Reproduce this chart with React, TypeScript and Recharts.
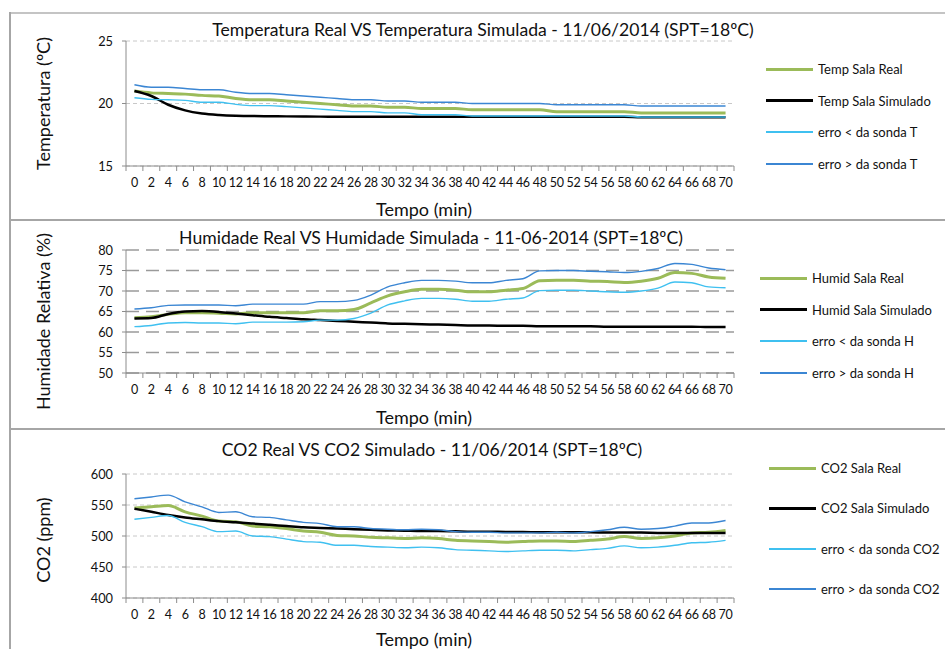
import React from "react";
import { CartesianGrid, Legend, Line, LineChart, XAxis, YAxis } from "recharts";

// minutes since start (x categories)
const minutes = [
  0, 2, 4, 6, 8, 10, 12, 14, 16, 18, 20, 22, 24, 26, 28, 30, 32, 34, 36, 38,
  40, 42, 44, 46, 48, 50, 52, 54, 56, 58, 60, 62, 64, 66, 68, 70,
];

// temperatura (ºC)
const tempReal = [
  21.0, 20.85, 20.8, 20.75, 20.65, 20.6, 20.4, 20.3, 20.3, 20.2, 20.1, 20.0,
  19.9, 19.8, 19.8, 19.7, 19.7, 19.6, 19.6, 19.6, 19.5, 19.5, 19.5, 19.5, 19.5,
  19.35, 19.35, 19.35, 19.35, 19.35, 19.25, 19.25, 19.25, 19.25, 19.25, 19.25,
];
const tempSim = [
  21.0, 20.6, 19.9, 19.45, 19.2, 19.08, 19.02, 19.0, 18.98, 18.97, 18.96,
  18.95, 18.95, 18.95, 18.95, 18.95, 18.95, 18.95, 18.95, 18.95, 18.95, 18.95,
  18.95, 18.95, 18.95, 18.95, 18.95, 18.95, 18.95, 18.95, 18.9, 18.9, 18.9,
  18.9, 18.9, 18.9,
];
const tempErrLow = [
  20.46, 20.33, 20.3, 20.25, 20.1, 20.1, 19.93, 19.83, 19.83, 19.75, 19.65,
  19.55, 19.45, 19.35, 19.35, 19.25, 19.25, 19.1, 19.1, 19.1, 19.0, 19.0, 19.0,
  19.0, 19.0, 19.0, 19.0, 19.0, 19.0, 19.0, 18.92, 18.92, 18.92, 18.92, 18.92,
  18.92,
];
const tempErrHigh = [
  21.5, 21.3, 21.3, 21.2, 21.1, 21.1, 20.9, 20.8, 20.8, 20.7, 20.6, 20.5, 20.4,
  20.3, 20.3, 20.2, 20.2, 20.1, 20.1, 20.1, 20.0, 20.0, 20.0, 20.0, 20.0, 19.9,
  19.9, 19.9, 19.9, 19.9, 19.8, 19.8, 19.8, 19.8, 19.8, 19.8,
];

// humidade relativa (%)
const humReal = [
  63.5, 63.7, 64.3, 64.7, 64.7, 64.6, 64.4, 64.7, 64.7, 64.7, 64.7, 65.2, 65.2,
  65.5, 67.1, 68.8, 69.8, 70.4, 70.4, 70.2, 69.8, 69.8, 70.2, 70.6, 72.5, 72.6,
  72.6, 72.4, 72.3, 72.1, 72.4, 73.1, 74.5, 74.3, 73.4, 73.1,
];
const humSim = [
  63.3, 63.4, 64.4, 65.0, 65.1, 64.9, 64.5, 64.1, 63.7, 63.4, 63.1, 62.9, 62.7,
  62.5, 62.3, 62.1, 62.0, 61.9, 61.8, 61.7, 61.6, 61.6, 61.5, 61.5, 61.4, 61.4,
  61.4, 61.4, 61.3, 61.3, 61.3, 61.3, 61.3, 61.3, 61.2, 61.2,
];
const humErrLow = [
  61.3, 61.6, 62.2, 62.3, 62.2, 62.2, 62.0, 62.4, 62.4, 62.4, 62.5, 62.9, 62.9,
  63.3, 64.6, 66.6, 67.6, 68.2, 68.2, 68.0, 67.5, 67.5, 68.0, 68.3, 70.1, 70.2,
  70.2, 70.0, 69.8, 69.7, 70.0, 70.7, 72.2, 72.0, 71.0, 70.8,
];
const humErrHigh = [
  65.6, 65.9, 66.5, 66.6, 66.6, 66.6, 66.4, 66.8, 66.8, 66.8, 66.8, 67.4, 67.4,
  67.7, 69.0, 71.0, 72.0, 72.6, 72.6, 72.4, 72.0, 72.0, 72.6, 73.0, 74.9, 75.0,
  75.0, 74.8, 74.7, 74.5, 74.8, 75.5, 76.7, 76.5, 75.6, 75.2,
];

// CO2 (ppm)
const co2Real = [
  545, 547, 549, 539, 532, 524, 523, 516, 515, 512, 508, 506, 501, 500, 498,
  497, 496, 497, 496, 493, 492, 491, 490, 491, 492, 492, 491, 493, 495, 499,
  496, 497, 500, 505, 506, 509,
];
const co2Sim = [
  544, 539, 534, 530, 527, 524, 522, 520, 518, 516, 514, 513, 512, 511, 510,
  509, 508.5, 508, 508, 507.5, 507, 507, 506.5, 506.5, 506, 506, 506, 506,
  505.5, 505.5, 505.5, 505, 505, 505, 505, 505,
];
const co2ErrLow = [
  527, 530, 533, 522, 515, 507, 508, 500, 499, 495, 491, 490, 485, 485, 483,
  482, 481, 482, 481, 478, 477, 476, 475, 476, 477, 477, 476, 478, 480, 484,
  481, 482, 485, 489, 490, 493,
];
const co2ErrHigh = [
  560, 563, 566, 555, 547, 538, 539, 531, 530, 526, 522, 520, 515, 515, 512,
  511, 510, 511, 510, 507, 506, 506, 505, 505, 505, 506, 505, 507, 510, 514,
  511, 512, 516, 521, 521, 525,
];

const tempTicks = [15, 20, 25];
const humTicks = [50, 55, 60, 65, 70, 75, 80];
const co2Ticks = [400, 450, 500, 550, 600];

const FONT = "Lato, 'Liberation Sans', sans-serif";
const AXIS = "#8c8c8c";
const BORDER = "#a6a6a6";

const CHART_W = 935;
const PLOT_W = 608;
const HALF = PLOT_W / minutes.length / 2;

const seriesStyle = [
  { key: "real", color: "#9bbb59", width: 3, legend: 3 },
  { key: "sim", color: "#000000", width: 2.5, legend: 3 },
  { key: "low", color: "#3fc0f0", width: 1.4, legend: 2 },
  { key: "high", color: "#3b86d3", width: 1.4, legend: 2 },
];

function rows(real: number[], sim: number[], low: number[], high: number[]) {
  return minutes.map((t, i) => ({
    t,
    real: real[i],
    sim: sim[i],
    low: low[i],
    high: high[i],
  }));
}

function XTick(props: any) {
  const { x, y, payload, index } = props;
  const axisY = y - 12;
  const last = index === minutes.length - 1;
  return (
    <g>
      <line x1={x - HALF} x2={x - HALF} y1={axisY} y2={axisY + 5} stroke={AXIS} />
      {last && (
        <line x1={x + HALF} x2={x + HALF} y1={axisY} y2={axisY + 5} stroke={AXIS} />
      )}
      <text
        x={x}
        y={y}
        dy="0.71em"
        textAnchor="middle"
        fontSize={12.5}
        fontFamily={FONT}
        fill="#111"
        letterSpacing={-0.3}
      >
        {payload.value}
      </text>
    </g>
  );
}

type PanelProps = {
  top: number;
  height: number;
  plotTop: number;
  plotBottom: number;
  title: string;
  titleX: number;
  titleY: number;
  yLabel: string;
  yLabelShift: number;
  xLabelDist: number;
  domain: [number, number];
  ticks: number[];
  data: any[];
  names: string[];
  gridDash: string;
  gridColor: string;
  gridWidth: number;
  legendTop: number;
  legendGap: number;
  legendLeft: number;
};

function Panel(p: PanelProps) {
  const xAxisH = p.height - p.plotBottom;
  return (
    <div
      style={{
        position: "absolute",
        left: 10,
        top: p.top,
        width: CHART_W,
        height: p.height,
      }}
    >
      <div
        style={{
          position: "absolute",
          left: p.titleX,
          top: p.titleY - 11,
          transform: "translateX(-50%)",
          whiteSpace: "nowrap",
          fontFamily: FONT,
          fontSize: 17.6,
          lineHeight: "22px",
          color: "#111",
        }}
      >
        {p.title}
      </div>
      <LineChart
        width={CHART_W}
        height={p.height}
        data={p.data}
        margin={{ top: p.plotTop, right: CHART_W - 116 - PLOT_W, bottom: 0, left: 0 }}
      >
        <CartesianGrid
          vertical={false}
          stroke={p.gridColor}
          strokeWidth={p.gridWidth}
          strokeDasharray={p.gridDash}
        />
        <XAxis
          dataKey="t"
          type="category"
          interval={0}
          height={xAxisH}
          padding={{ left: HALF, right: HALF }}
          tickLine={false}
          tickSize={4}
          tickMargin={8}
          axisLine={{ stroke: AXIS }}
          tick={<XTick />}
          label={{
            content: (lp: any) => {
              const vb = lp.viewBox;
              return (
                <text
                  x={vb.x + vb.width / 2 - 6}
                  y={vb.y + p.xLabelDist}
                  dominantBaseline="central"
                  textAnchor="middle"
                  fontFamily={FONT}
                  fontSize={18}
                  fill="#111"
                >
                  Tempo (min)
                </text>
              );
            },
          }}
        />
        <YAxis
          type="number"
          width={116}
          domain={p.domain}
          ticks={p.ticks}
          interval={0}
          tickSize={4}
          tickMargin={9}
          tickLine={{ stroke: AXIS }}
          axisLine={{ stroke: AXIS }}
          tick={{ fontSize: 12.8, fill: "#111", fontFamily: FONT }}
          label={{
            content: (lp: any) => {
              const vb = lp.viewBox;
              const cx = 33;
              const cy = vb.y + vb.height / 2 + p.yLabelShift;
              return (
                <text
                  x={cx}
                  y={cy}
                  transform={`rotate(-90, ${cx}, ${cy})`}
                  dominantBaseline="central"
                  textAnchor="middle"
                  fontFamily={FONT}
                  fontSize={18}
                  fill="#111"
                >
                  {p.yLabel}
                </text>
              );
            },
          }}
        />
        <Legend
          layout="vertical"
          align="center"
          verticalAlign="middle"
          wrapperStyle={{ left: p.legendLeft, top: p.legendTop, width: 180 }}
          content={() => (
            <div style={{ fontFamily: FONT, fontSize: 13, color: "#111" }}>
              {seriesStyle.map((s, i) => (
                <div
                  key={s.key}
                  style={{
                    height: p.legendGap,
                    display: "flex",
                    alignItems: "center",
                    marginTop: i === 0 ? -p.legendGap / 2 : 0,
                  }}
                >
                  <span
                    style={{
                      display: "inline-block",
                      width: 47,
                      height: s.legend,
                      background: s.color,
                      marginRight: 5,
                    }}
                  />
                  <span style={{ whiteSpace: "nowrap" }}>{p.names[i]}</span>
                </div>
              ))}
            </div>
          )}
        />
        {seriesStyle.map((s, i) => (
          <Line
            key={s.key}
            dataKey={s.key}
            name={p.names[i]}
            type="monotone"
            stroke={s.color}
            strokeWidth={s.width}
            dot={false}
            activeDot={false}
            isAnimationActive={false}
          />
        ))}
      </LineChart>
    </div>
  );
}

export default function App() {
  return (
    <div
      style={{
        position: "absolute",
        left: 0,
        top: 0,
        width: 945,
        height: 649,
        overflow: "hidden",
        background: "#fff",
      }}
    >
      <div style={{ position: "absolute", left: 10, top: 12, width: 935, height: 1.5, background: "#c4c4c4" }} />
      <div style={{ position: "absolute", left: 9, top: 12, width: 2, height: 640, background: BORDER }} />
      <div style={{ position: "absolute", left: 9, top: 219, width: 936, height: 2, background: BORDER }} />
      <div style={{ position: "absolute", left: 9, top: 428, width: 936, height: 2, background: BORDER }} />

      <Panel
        top={13}
        height={206}
        plotTop={28}
        plotBottom={153}
        title="Temperatura Real VS Temperatura Simulada - 11/06/2014 (SPT=18ºC)"
        titleX={473}
        titleY={17}
        yLabel="Temperatura (ºC)"
        yLabelShift={0}
        xLabelDist={43}
        domain={[15, 25]}
        ticks={tempTicks}
        data={rows(tempReal, tempSim, tempErrLow, tempErrHigh)}
        names={["Temp Sala Real", "Temp Sala Simulado", "erro < da sonda T", "erro > da sonda T"]}
        gridDash="4 3"
        gridColor="#c8c8c8"
        gridWidth={1}
        legendTop={56}
        legendGap={31.7}
        legendLeft={756}
      />
      <Panel
        top={221}
        height={206}
        plotTop={29}
        plotBottom={152}
        title="Humidade Real VS Humidade Simulada - 11-06-2014 (SPT=18ºC)"
        titleX={421}
        titleY={17}
        yLabel="Humidade Relativa (%)"
        yLabelShift={10}
        xLabelDist={44}
        domain={[50, 80]}
        ticks={humTicks}
        data={rows(humReal, humSim, humErrLow, humErrHigh)}
        names={["Humid Sala Real", "Humid Sala Simulado", "erro < da sonda H", "erro > da sonda H"]}
        gridDash="13 7"
        gridColor="#9a9a9a"
        gridWidth={1.5}
        legendTop={57}
        legendGap={31.7}
        legendLeft={750}
      />
      <Panel
        top={429}
        height={230}
        plotTop={45}
        plotBottom={169}
        title="CO2 Real VS CO2 Simulado - 11/06/2014 (SPT=18ºC)"
        titleX={422}
        titleY={21}
        yLabel="CO2 (ppm)"
        yLabelShift={4}
        xLabelDist={41}
        domain={[400, 600]}
        ticks={co2Ticks}
        data={rows(co2Real, co2Sim, co2ErrLow, co2ErrHigh)}
        names={["CO2 Sala Real", "CO2 Sala Simulado", "erro < da sonda CO2", "erro > da sonda CO2"]}
        gridDash="4 3"
        gridColor="#c8c8c8"
        gridWidth={1}
        legendTop={39}
        legendGap={40.3}
        legendLeft={759}
      />
    </div>
  );
}
